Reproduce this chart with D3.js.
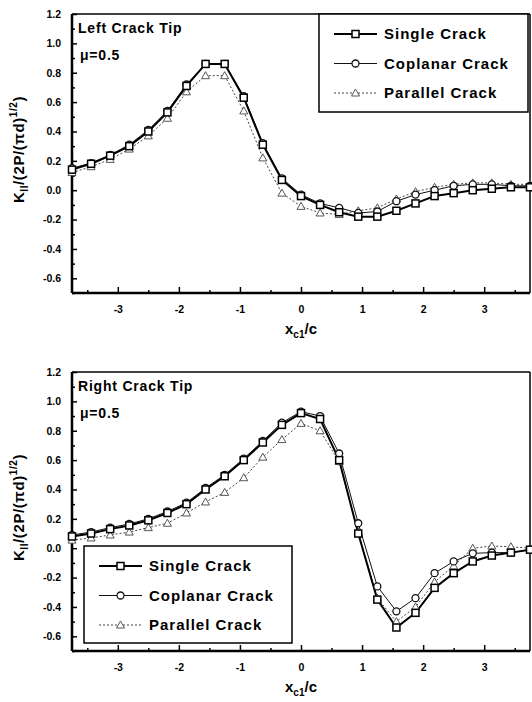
<!DOCTYPE html>
<html><head><meta charset="utf-8">
<script src="https://cdn.jsdelivr.net/npm/d3@7"></script>
<style>body{margin:0;background:#fff;} text{font-family:"Liberation Sans",Arial,sans-serif;font-weight:bold;fill:#000;}</style>
</head><body>
<svg id="c" width="532" height="702"></svg>
<script>
// x positions (x_c1/c)
const xVals = [-3.75,-3.4375,-3.125,-2.8125,-2.5,-2.1875,-1.875,-1.5625,-1.25,-0.9375,-0.625,-0.3125,0,0.3125,0.625,0.9375,1.25,1.5625,1.875,2.1875,2.5,2.8125,3.125,3.4375,3.75];
// Left crack tip
const leftSingle   = [0.14,0.18,0.235,0.30,0.40,0.53,0.71,0.86,0.86,0.63,0.31,0.07,-0.04,-0.10,-0.15,-0.18,-0.18,-0.14,-0.09,-0.04,-0.02,0.00,0.01,0.02,0.02];
const leftCoplanar = [0.15,0.185,0.24,0.31,0.41,0.54,0.72,0.86,0.86,0.64,0.32,0.08,-0.03,-0.09,-0.12,-0.155,-0.145,-0.075,-0.03,0.00,0.03,0.04,0.04,0.03,0.03];
const leftParallel = [0.12,0.16,0.21,0.28,0.37,0.49,0.67,0.78,0.78,0.54,0.22,-0.02,-0.11,-0.155,-0.165,-0.14,-0.12,-0.06,-0.01,0.02,0.04,0.05,0.05,0.04,0.04];
// Right crack tip
const rightSingle   = [0.08,0.10,0.13,0.155,0.19,0.24,0.30,0.40,0.49,0.60,0.72,0.84,0.92,0.88,0.60,0.10,-0.35,-0.54,-0.44,-0.27,-0.17,-0.09,-0.05,-0.03,-0.01];
const rightCoplanar = [0.09,0.11,0.14,0.165,0.20,0.25,0.31,0.41,0.50,0.61,0.73,0.855,0.93,0.90,0.645,0.17,-0.26,-0.43,-0.34,-0.17,-0.09,-0.035,-0.03,-0.03,-0.01];
const rightParallel = [0.055,0.07,0.09,0.11,0.14,0.17,0.24,0.315,0.38,0.48,0.62,0.74,0.85,0.80,0.59,0.11,-0.34,-0.50,-0.40,-0.23,-0.12,0.00,0.015,0.01,0.00];
// ticks
const xMajorTicks = [-3,-2,-1,0,1,2,3];
const xTickLabels = ["-3","-2","-1","0","1","2","3"];
const xMinorTicks = [-3.5,-2.5,-1.5,-0.5,0.5,1.5,2.5,3.5];
const yMajorTicks = [-0.6,-0.4,-0.2,0.0,0.2,0.4,0.6,0.8,1.0,1.2];
const yTickLabels = ["-0.6","-0.4","-0.2","0.0","0.2","0.4","0.6","0.8","1.0","1.2"];
const yMinorTicks = [-0.7,-0.5,-0.3,-0.1,0.1,0.3,0.5,0.7,0.9,1.1];
const seriesNames = ["Single Crack","Coplanar Crack","Parallel Crack"];

const svg = d3.select("#c");
const L = 72, R = 530;

const styles = [
  {name:seriesNames[0], width:2, dash:null, color:"#000", marker:"square"},
  {name:seriesNames[1], width:1, dash:null, color:"#111", marker:"circle"},
  {name:seriesNames[2], width:1, dash:"2,2", color:"#444", marker:"triangle"}
];

function marker(g, type, x, y, color){
  if(type==="square") g.append("rect").attr("x",x-3.5).attr("y",y-3.5).attr("width",7).attr("height",7)
    .attr("fill","#fff").attr("stroke",color).attr("stroke-width",1.5);
  else if(type==="circle") g.append("circle").attr("cx",x).attr("cy",y).attr("r",3.5)
    .attr("fill","#fff").attr("stroke",color).attr("stroke-width",1.3);
  else g.append("path").attr("d",`M${x},${y-4}L${x+4},${y+3}L${x-4},${y+3}Z`)
    .attr("fill","#fff").attr("stroke",color).attr("stroke-width",0.9);
}

function panel(top, bottom, data, title, legendBox){
  const g = svg.append("g");
  const x = d3.scaleLinear().domain([-3.75,3.75]).range([L,R]);
  const y = d3.scaleLinear().domain([-0.7,1.2]).range([bottom,top]);
  // frame
  g.append("line").attr("x1",L).attr("x2",R).attr("y1",top).attr("y2",top).attr("stroke","#000").attr("stroke-width",1.5);
  g.append("line").attr("x1",R).attr("x2",R).attr("y1",top).attr("y2",bottom).attr("stroke","#000").attr("stroke-width",1.5);
  // axes (ticks inward)
  const ax = g.append("g").attr("transform",`translate(0,${bottom})`)
    .call(d3.axisBottom(x).tickValues(xMajorTicks).tickSize(-6).tickPadding(13).tickFormat((d,i)=>xTickLabels[i]));
  g.append("g").attr("transform",`translate(0,${bottom})`)
    .call(d3.axisBottom(x).tickValues(xMinorTicks).tickSize(-3).tickFormat(""))
    .call(s=>s.select(".domain").remove());
  const ay = g.append("g").attr("transform",`translate(${L},0)`)
    .call(d3.axisLeft(y).tickValues(yMajorTicks).tickSize(-5).tickPadding(11).tickFormat((d,i)=>yTickLabels[i]));
  g.append("g").attr("transform",`translate(${L},0)`)
    .call(d3.axisLeft(y).tickValues(yMinorTicks).tickSize(-3).tickFormat(""))
    .call(s=>s.select(".domain").remove());
  g.selectAll(".domain").attr("stroke","#000").attr("stroke-width",2.5);
  g.selectAll(".tick line").attr("stroke","#000").attr("stroke-width",1.5);
  g.selectAll(".tick text").attr("font-size",10.5).attr("font-family","Liberation Sans,Arial,sans-serif").attr("font-weight","bold");
  ax.selectAll(".domain").attr("d",`M${L},0H${R}`);
  ay.selectAll(".domain").attr("d",`M0,${bottom}V${top}`);

  // series (draw parallel first, single on top)
  const line = d3.line().x((d,i)=>x(xVals[i])).y(d=>y(d));
  [2,1,0].forEach(k=>{
    const s = styles[k];
    g.append("path").attr("d",line(data[k])).attr("fill","none").attr("stroke",s.color)
      .attr("stroke-width",s.width).attr("stroke-dasharray",s.dash);
  });
  [2,1,0].forEach(k=>{
    const s = styles[k];
    const mg = g.append("g");
    data[k].forEach((v,i)=>marker(mg,s.marker,x(xVals[i]),y(v),s.color));
  });

  // annotations
  g.append("text").attr("x",L+6).attr("y",top+19).attr("font-size",14).attr("letter-spacing",0.8).text(title);
  g.append("text").attr("x",L+8).attr("y",top+46).attr("font-size",14).attr("letter-spacing",0.8).text("μ=0.5");

  // legend
  const lb = legendBox;
  g.append("rect").attr("x",lb.x).attr("y",lb.y).attr("width",lb.w).attr("height",lb.h)
    .attr("fill","#fff").attr("stroke","#000").attr("stroke-width",1.5);
  styles.forEach((s,k)=>{
    const cy = lb.y + 20 + k*29.5;
    const x1 = lb.x + 15, x2 = lb.x + 58;
    g.append("line").attr("x1",x1).attr("x2",x2).attr("y1",cy).attr("y2",cy).attr("stroke",s.color)
      .attr("stroke-width",s.width).attr("stroke-dasharray",s.dash);
    marker(g,s.marker,(x1+x2)/2,cy,s.color);
    g.append("text").attr("x",lb.x+65).attr("y",cy+5).attr("font-size",15).attr("letter-spacing",1).text(s.name);
  });

  // axis labels
  const xl = g.append("text").attr("x",(L+R)/2).attr("y",bottom+41).attr("text-anchor","middle").attr("font-size",15);
  xl.append("tspan").text("x");
  xl.append("tspan").attr("font-size",10).attr("dy",4).text("c1");
  xl.append("tspan").attr("dy",-4).text("/c");
  const yl = g.append("text").attr("transform",`translate(24,${(top+bottom)/2-4}) rotate(-90)`)
    .attr("text-anchor","middle").attr("font-size",15).attr("letter-spacing",0.6);
  yl.append("tspan").text("K");
  yl.append("tspan").attr("font-size",10).attr("dy",4).text("II");
  yl.append("tspan").attr("dy",-4).text("/(2P/(πd)");
  yl.append("tspan").attr("font-size",10).attr("dy",-7).text("1/2");
  yl.append("tspan").attr("dy",7).text(")");
}

panel(14, 293, [leftSingle,leftCoplanar,leftParallel], "Left Crack Tip", {x:319,y:14,w:209,h:98});
panel(372, 651, [rightSingle,rightCoplanar,rightParallel], "Right Crack Tip", {x:84,y:546,w:208,h:97});
</script>
</body></html>
